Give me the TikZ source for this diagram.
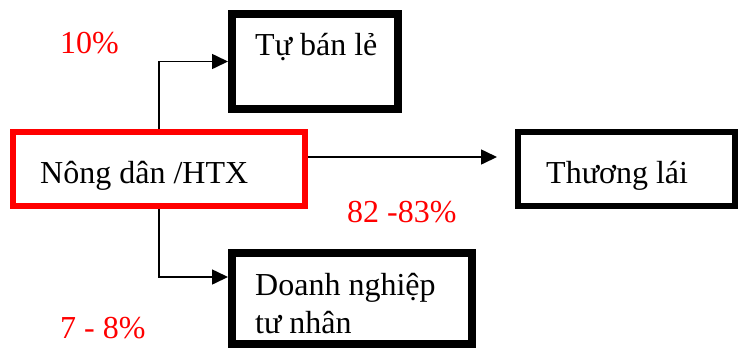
\documentclass[tikz,border=0pt]{standalone}
\usepackage{fontspec}
\setmainfont{Liberation Serif}
\usetikzlibrary{arrows.meta}
\begin{document}
\begin{tikzpicture}[x=1pt,y=-1pt,
  box/.style={draw=black,line width=8pt,inner sep=0pt,outer sep=4pt,fill=white},
  redbox/.style={draw=red,line width=6pt,inner sep=0pt,outer sep=3pt,fill=white},
  thinbox/.style={draw=black,line width=6pt,inner sep=0pt,outer sep=3pt,fill=white},
  lbl/.style={anchor=base west,inner sep=0pt,font=\fontsize{32}{36}\selectfont},
  pct/.style={lbl,text=red},
  conn/.style={line width=1.6pt,-{Triangle[length=16pt,width=15pt]}}]
\useasboundingbox (0,0) rectangle (744,349);
\node[box,minimum width=166pt,minimum height=95pt] (tu) at (315,61.5) {};
\node[redbox,minimum width=292pt,minimum height=74pt] (nd) at (159,169) {};
\node[thinbox,minimum width=217pt,minimum height=74pt] (tl) at (626.5,169) {};
\node[box,minimum width=240pt,minimum height=91pt] (dn) at (352,298.5) {};
\node[lbl] (t1) at (255,55) {Tự bán lẻ};
\node[lbl] (t2) at (40,183) {Nông dân /HTX};
\node[lbl] (t3) at (546,183) {Thương lái};
\node[lbl] (t4) at (255,295) {Doanh nghiệp};
\node[lbl] (t5) at (255,333) {tư nhân};
\node[pct] (p1) at (60,53) {10\%};
\node[pct] (p2) at (347,222) {82 -83\%};
\node[pct] (p3) at (60,338) {7 - 8\%};
\coordinate (s3) at (308,157);
\coordinate (e3) at (497,157);
\coordinate (e2) at (228,277);
\draw[conn] (nd.north) |- (tu.west);
\draw[conn] (nd.south) |- (e2);
\draw[conn] (s3) -- (e3);
\end{tikzpicture}
\end{document}
